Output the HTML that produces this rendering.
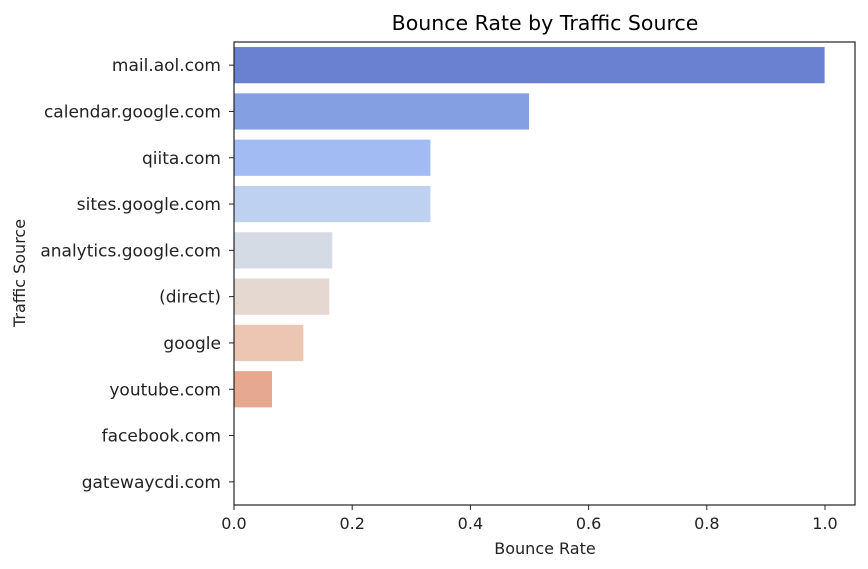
<!DOCTYPE html>
<html><head><meta charset="utf-8"><style>
body{margin:0;background:#fff;}
svg{display:block;font-family:"DejaVu Sans","Liberation Sans",sans-serif;}
</style></head><body>
<svg id="chart" width="868" height="569">
<text x="545" y="30" font-size="20.5" text-anchor="middle" fill="#000">Bounce Rate by Traffic Source</text>
<text x="545" y="554" font-size="16" text-anchor="middle" fill="#222">Bounce Rate</text>
<text transform="translate(25,273) rotate(-90)" font-size="16" text-anchor="middle" fill="#222">Traffic Source</text>
<g id="bars"></g><g id="ticks"></g>
<rect x="234" y="42" width="621" height="463" fill="none" stroke="#222" stroke-width="1.2"/>
</svg>
<script>
const categories=["mail.aol.com","calendar.google.com","qiita.com","sites.google.com","analytics.google.com","(direct)","google","youtube.com","facebook.com","gatewaycdi.com"];
const values=[1.0,0.5,0.333,0.333,0.167,0.162,0.118,0.065,0,0];
const colors=["#6a80d1","#84a0e3","#a2bbf2","#bfd1f1","#d5dbe5","#e5d8d1","#ecc5b3","#e6a990","#d9775f","#c0443a"];
const xTicks=[0,0.2,0.4,0.6,0.8,1.0];
const xTickLabels=["0.0","0.2","0.4","0.6","0.8","1.0"];
const NS="http://www.w3.org/2000/svg";
const L=234,T=42,H=463;
function xs(v){return L+v*591;}
function band(){return H/categories.length;}
function yc(i){return T+band()*(i+0.5);}
const gb=document.getElementById('bars'),gt=document.getElementById('ticks');
function mk(tag,a,p){const e=document.createElementNS(NS,tag);for(const k in a)e.setAttribute(k,a[k]);p.appendChild(e);return e;}
categories.forEach((c,i)=>{
  const bh=band()*0.8;
  const r=mk('rect',{x:xs(0),y:yc(i)-bh/2,width:xs(values[i])-xs(0),height:bh,fill:colors[i],stroke:'#fff','stroke-width':0.8},gb);
  
  
  mk('line',{x1:L-5,x2:L,y1:yc(i),y2:yc(i),stroke:'#222'},gt);
  const t=mk('text',{x:L-13,y:yc(i)+6,'font-size':17,'text-anchor':'end',fill:'#222'},gt);
  t.textContent=c;
  
  
});
xTicks.forEach((v,i)=>{
  mk('line',{x1:xs(v),x2:xs(v),y1:T+H,y2:T+H+5,stroke:'#222'},gt);
  const t=mk('text',{x:xs(v),y:T+H+24,'font-size':16,'text-anchor':'middle',fill:'#222'},gt);
  t.textContent=xTickLabels[i];
  
  
});
</script>
</body></html>
